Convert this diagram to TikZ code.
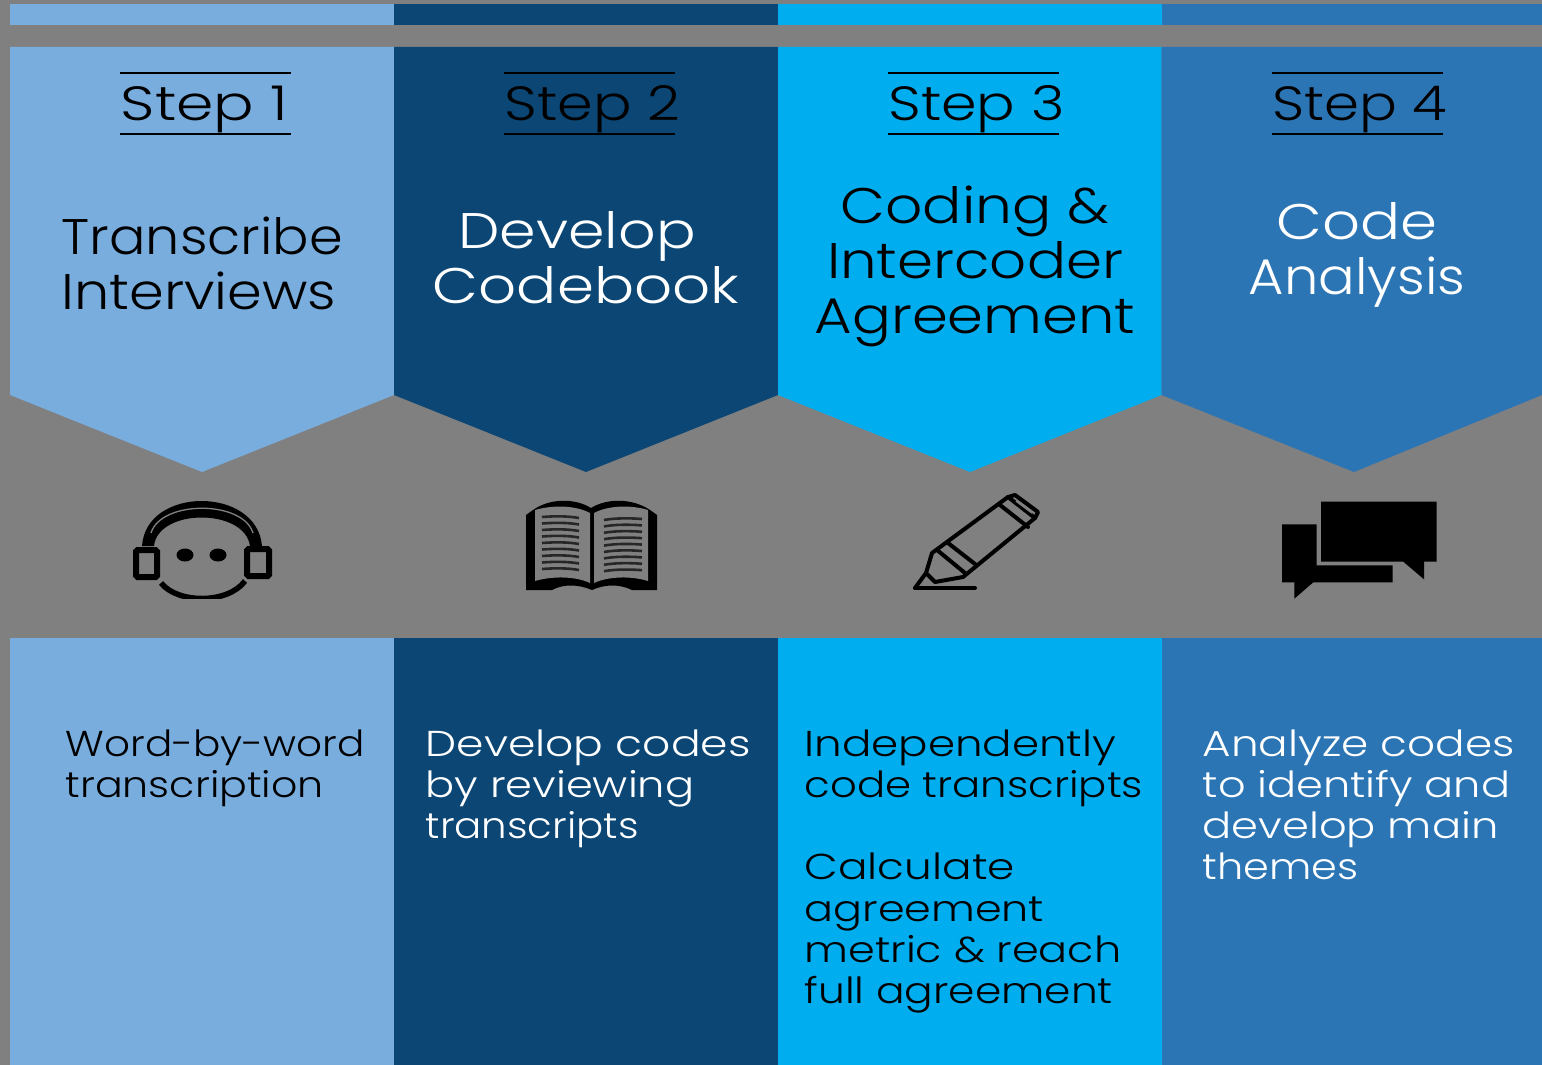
\documentclass[tikz,border=0pt]{standalone}
\usepackage{graphicx}
\usepackage{fontspec}
\setmainfont{Poppins Light}
\newcommand{\sx}[2]{\scalebox{#1}[1]{#2}}
\definecolor{cA}{HTML}{78ADDE}
\definecolor{cB}{HTML}{0B4674}
\definecolor{cC}{HTML}{00ADEF}
\definecolor{cD}{HTML}{2B75B5}
\definecolor{bgG}{HTML}{808080}
\tikzset{
  stepnum/.style={inner sep=0pt,anchor=base,font=\fontsize{48}{48}\selectfont,text=black},
  rulebar/.style={line width=2.8pt,black},
  titleC/.style={inner sep=0pt,align=center,anchor=north,font=\fontsize{50}{55}\selectfont},
  titleL/.style={inner sep=0pt,align=left,anchor=north west,font=\fontsize{50}{55}\selectfont},
  desc/.style={inner sep=0pt,align=left,anchor=north west,font=\fontsize{36}{41.2}\selectfont},
  iconline/.style={black,line width=4pt,line join=round,line cap=round},
}
\begin{document}
\begin{tikzpicture}[x=1pt,y=-1pt]
\useasboundingbox (0,0) rectangle (1542,1065);
\fill[bgG] (0,0) rectangle (1542,1065);
% top strip
\fill[cA] (10,4) rectangle (394,25);
\fill[cB] (394,4) rectangle (778,25);
\fill[cC] (778,4) rectangle (1161.5,25);
\fill[cD] (1161.5,4) rectangle (1542,25);
% chevrons
\fill[cA] (10,47) -- (394,47) -- (394,395) -- (202,472) -- (10,395) -- cycle;
\fill[cB] (394,47) -- (778,47) -- (778,395) -- (586,472) -- (394,395) -- cycle;
\fill[cC] (778,47) -- (1161.5,47) -- (1161.5,395) -- (970,472) -- (778,395) -- cycle;
\fill[cD] (1161.5,47) -- (1542,47) -- (1542,395) -- (1354,472) -- (1161.5,395) -- cycle;
% lower panels
\fill[cA] (10,638) rectangle (394,1065);
\fill[cB] (394,638) rectangle (778,1065);
\fill[cC] (778,638) rectangle (1161.5,1065);
\fill[cD] (1161.5,638) rectangle (1542,1065);
% step rules
\foreach \xa in {120,504,888,1272}{
  \draw[rulebar] (\xa,73) -- ++(171,0);
  \draw[rulebar] (\xa,134) -- ++(171,0);
}
% step labels
\node[stepnum] (s1) at (204.5,120) {\sx{1.25}{Step 1}};
\node[stepnum] (s2) at (592.5,120) {\sx{1.19}{Step 2}};
\node[stepnum] (s3) at (976.5,120) {\sx{1.19}{Step 3}};
\node[stepnum] (s4) at (1360,120) {\sx{1.17}{Step 4}};
% titles
\node[titleL,text=black] (t1) at (61.5,217) {\sx{1.081}{Transcribe}\\\sx{1.115}{Interviews}};
\node[titleC,text=white] (t2) at (586,211) {\sx{1.174}{Develop}\hbox to 18pt{}\\\sx{1.19}{Codebook}};
\node[titleC,text=black] (t3) at (975,185.5) {\sx{1.165}{Coding \&}\\\sx{1.157}{Intercoder}\\\sx{1.151}{Agreement}};
\node[titleC,text=white] (t4) at (1357,202) {\sx{1.187}{Code}\\\sx{1.086}{Analysis}};
% descriptions
\node[desc,text=black] (d1) at (65.5,729.5) {\sx{1.125}{Word-by-word}\\\sx{1.142}{transcription}};
\node[desc,text=white] (d2) at (425.5,729.5) {\sx{1.223}{Develop codes}\\\sx{1.198}{by reviewing}\\\sx{1.12}{transcripts}};
\node[desc,text=black] (d3) at (804.5,729.5) {\sx{1.21}{Independently}\\\sx{1.16}{code transcripts}\\[41.2pt]\sx{1.215}{Calculate}\\\sx{1.19}{agreement}\\\sx{1.193}{metric \& reach}\\\sx{1.176}{full agreement}};
\node[desc,text=white] (d4) at (1202.5,729.5) {\sx{1.215}{Analyze codes}\\\sx{1.196}{to identify and}\\\sx{1.2}{develop main}\\\sx{1.15}{themes}};
% headphones
\fill[black] (142,546) .. controls (146,486) and (257,486) .. (262,546) -- (250,546) .. controls (245,508) and (158,508) .. (154,546) -- cycle;
\draw[bgG,line width=1.3pt] (151,533) .. controls (161,500) and (243,500) .. (253,533);
\draw[black,line width=6pt,rounded corners=1.5pt] (136,550) rectangle (157,577);
\draw[black,line width=6pt,rounded corners=1.5pt] (247,549) rectangle (269,576);
\fill[black] (185,555) ellipse [x radius=8.5pt,y radius=6.5pt];
\fill[black] (218,555) ellipse [x radius=8.5pt,y radius=6.5pt];
\begin{scope}
\clip (150,575) rectangle (255,598.5);
\draw[black,line width=5.5pt] (161,583) .. controls (178,604) and (228,604) .. (245,581);
\end{scope}
% book
\fill[black] (526,515) -- (533,510) .. controls (550,498) and (575,498) .. (591,508) .. controls (607,498) and (632,498) .. (650,510) -- (657,515) -- (657,590) -- (632,590) .. controls (620,584) and (605,584) .. (592,590) .. controls (578,584) and (563,584) .. (552,590) -- (526,590) -- cycle;
\fill[bgG] (535,510) .. controls (552,505) and (575,505) .. (590,513) -- (590,583) .. controls (575,576) and (552,576) .. (535,581) -- cycle;
\fill[bgG] (594,513) .. controls (609,505) and (632,505) .. (648,510) -- (648,581) .. controls (632,576) and (609,576) .. (594,583) -- cycle;
\foreach \i in {0,...,8}{
  \draw[black!70!bgG,line width=2.6pt] (542,{517+6.5*\i}) .. controls (555,{516+6.5*\i}) and (568,{516+6.5*\i}) .. (579,{518+6.5*\i});
  \draw[black!70!bgG,line width=2.6pt] (604,{520+6.4*\i}) .. controls (615,{518+6.4*\i}) and (630,{518+6.4*\i}) .. (642,{519+6.4*\i});
}
% pen
\draw[iconline] (915,588) -- (975,588);
\draw[iconline] (915,588) -- (926,573) -- (932,553) -- (1008,497) -- (1035,518) -- (963,577) -- (935,582) -- (926,573);
\draw[iconline] (937,550) -- (965,573);
\draw[iconline] (948,543) -- (975,564);
\draw[iconline] (1000,505) -- (1028,527);
\draw[iconline] (1008,497) -- (1015,495) -- (1038,512) -- (1035,518);
\draw[bgG,line width=1.6pt] (1016,501) -- (1032,513);
% bubbles
\fill[black] (1321,501.7) -- (1436.7,501.7) -- (1436.7,561.7) -- (1424,561.7) -- (1424,579.3) -- (1403.3,561.7) -- (1321,561.7) -- cycle;
\fill[black] (1282,524.3) -- (1316.7,524.3) -- (1316.7,565.3) -- (1392.7,565.3) -- (1392.7,582.3) -- (1313.3,582.3) -- (1294.3,598.7) -- (1294.3,582.3) -- (1282,582.3) -- cycle;
\end{tikzpicture}
\end{document}
